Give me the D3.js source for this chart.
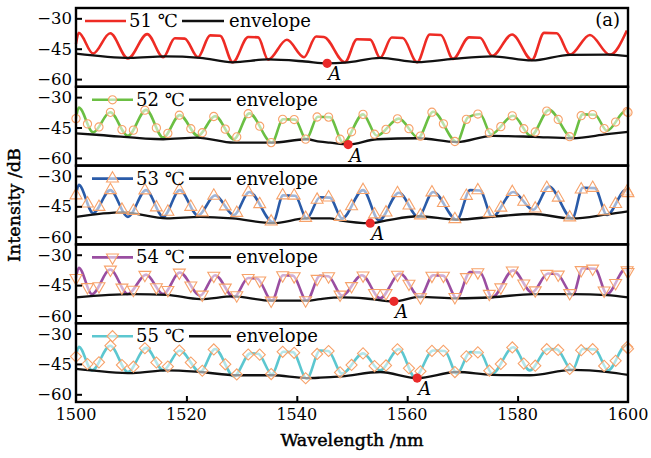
<!DOCTYPE html>
<html>
<head>
<meta charset="utf-8">
<script src="https://cdn.jsdelivr.net/npm/d3@7"></script>
<style>
  body { margin: 0; background: #fff; }
  text { font-family: "DejaVu Serif", serif; }
</style>
</head>
<body>
<svg id="chart" width="651" height="458"></svg>
<script>
const temps = ["51 ℃", "52 ℃", "53 ℃", "54 ℃", "55 ℃"];
const xTicks = [1500, 1520, 1540, 1560, 1580, 1600];
const yTicks = [-30, -45, -60];

const spec51 = [[1500.0,-42.6],[1500.5,-37.2],[1503.1,-47.4],[1506.2,-37.4],[1509.4,-49.8],[1512.9,-37.8],[1515.8,-49.2],[1517.9,-39.8],[1519.7,-40.0],[1522.1,-49.2],[1524.3,-38.4],[1526.1,-38.6],[1528.4,-51.7],[1531.2,-39.2],[1533.0,-39.4],[1534.8,-50.4],[1538.2,-40.6],[1541.3,-49.2],[1543.5,-39.0],[1544.9,-39.2],[1548.7,-51.7],[1550.9,-40.3],[1553.3,-40.5],[1555.1,-49.5],[1557.2,-39.5],[1559.2,-39.7],[1561.8,-51.7],[1564.1,-38.0],[1566.1,-38.2],[1568.3,-50.0],[1571.2,-39.4],[1573.2,-39.6],[1575.4,-48.5],[1579.0,-38.0],[1582.6,-50.5],[1584.8,-37.2],[1587.1,-37.4],[1589.5,-47.9],[1593.1,-38.2],[1596.7,-48.0],[1599.8,-36.0]];
const env51 = [[1500,-47.4],[1509.8,-49.5],[1516.1,-48.8],[1522.5,-49.5],[1528.4,-51.7],[1534.8,-50.3],[1541.5,-51.3],[1545.5,-52.2],[1548.7,-51.9],[1555.1,-49.5],[1561.8,-51.6],[1568.3,-50.0],[1575.4,-48.8],[1582.6,-50.8],[1589.5,-48.0],[1596.7,-47.9],[1600,-48.7]];

const spec52 = [[1500.0,-40.6],[1500.5,-35.1],[1503.1,-47.4],[1506.2,-37.5],[1509.4,-49.1],[1512.7,-36.3],[1515.8,-50.0],[1518.8,-38.9],[1522.1,-49.1],[1525.2,-39.4],[1528.6,-50.8],[1531.4,-38.0],[1535.5,-52.5],[1537.5,-40.9],[1539.7,-41.1],[1541.7,-50.8],[1543.8,-39.7],[1546.0,-39.9],[1548.4,-52.5],[1552.0,-38.5],[1554.5,-49.1],[1558.5,-40.6],[1562.0,-50.0],[1564.7,-37.2],[1569.0,-52.2],[1571.0,-40.0],[1573.2,-38.3],[1575.2,-48.3],[1579.2,-39.2],[1582.4,-49.1],[1585.7,-36.3],[1589.9,-50.0],[1591.8,-38.5],[1594.0,-38.7],[1596.2,-46.6],[1599.6,-36.8],[1600,-37.6]];
const env52 = [[1500,-47.9],[1504.3,-48.7],[1515.8,-50.8],[1521.9,-50.0],[1528.6,-52.5],[1535.5,-52.5],[1541.7,-50.8],[1544.2,-52.0],[1546.0,-52.5],[1549.3,-53.4],[1554.5,-50.8],[1562.0,-50.3],[1569.0,-52.2],[1575.5,-49.1],[1582.8,-49.6],[1589.9,-50.3],[1596.2,-48.3],[1600,-47.1]];

const spec53 = [[1500,-39.6],[1500.5,-34.4],[1503.1,-48.4],[1506.2,-37.0],[1509.4,-50.2],[1512.7,-37.0],[1515.8,-50.2],[1518.8,-37.0],[1522.1,-49.6],[1525.2,-39.6],[1528.6,-49.3],[1531.4,-37.9],[1535.7,-52.8],[1537.5,-39.6],[1539.7,-39.8],[1541.8,-51.0],[1544.2,-40.5],[1546.0,-40.7],[1548.2,-51.0],[1552.0,-37.0],[1554.9,-51.9],[1558.5,-38.3],[1562.0,-50.2],[1564.7,-37.9],[1569.0,-51.6],[1571.4,-37.0],[1573.2,-37.2],[1575.4,-50.2],[1579.2,-37.9],[1582.8,-46.7],[1585.7,-35.3],[1589.9,-51.0],[1591.8,-35.8],[1594.0,-36.0],[1596.2,-49.3],[1599.6,-37.0],[1600,-38.5]];
const env53 = [[1500,-50.2],[1508.5,-48.0],[1516.5,-51.0],[1522.5,-50.2],[1528.4,-51.0],[1535.7,-53.3],[1541.8,-51.0],[1546.0,-51.0],[1547.8,-51.9],[1553.3,-53.3],[1556.3,-51.9],[1562.0,-49.9],[1569.0,-51.6],[1576.3,-49.9],[1582.8,-48.8],[1589.9,-51.0],[1596.2,-49.0],[1600,-47.5]];

const spec54 = [[1500,-41.5],[1500.5,-36.4],[1502.9,-49.5],[1506.2,-37.3],[1509.4,-49.4],[1512.7,-39.8],[1515.8,-49.4],[1518.8,-38.8],[1522.5,-50.2],[1525.2,-40.1],[1528.6,-51.0],[1531.2,-41.5],[1532.8,-41.7],[1535.5,-52.7],[1537.5,-40.1],[1539.3,-40.3],[1541.8,-52.7],[1544.2,-40.4],[1545.7,-40.6],[1548.2,-50.2],[1551.8,-40.1],[1555.1,-51.5],[1558.7,-39.3],[1562.3,-51.0],[1564.7,-40.1],[1566.5,-40.3],[1569.0,-51.5],[1571.4,-38.5],[1573.2,-38.7],[1575.4,-51.0],[1579.2,-37.7],[1582.6,-48.6],[1585.5,-39.3],[1587.1,-39.5],[1590.0,-49.9],[1591.8,-36.7],[1594.0,-36.9],[1596.2,-49.4],[1599.6,-37.0],[1600,-38.5]];
const env54 = [[1500,-51.0],[1510.3,-49.4],[1516.5,-49.8],[1522.5,-51.9],[1528.4,-50.6],[1535.5,-52.7],[1541.8,-52.7],[1544.2,-51.9],[1548.2,-51.1],[1552.5,-51.6],[1557.6,-53.0],[1562.3,-50.8],[1569.0,-51.5],[1575.4,-51.0],[1582.8,-49.4],[1590.0,-49.4],[1596.2,-49.9],[1600,-51.0]];

const spec55 = [[1500,-41.4],[1500.5,-36.5],[1502.9,-48.2],[1506.2,-36.0],[1509.4,-49.0],[1512.7,-37.1],[1515.8,-48.2],[1518.8,-38.4],[1522.5,-49.0],[1525.2,-37.6],[1528.6,-51.1],[1531.6,-39.8],[1533.0,-40.0],[1535.5,-50.1],[1537.5,-39.0],[1539.3,-39.2],[1541.8,-52.3],[1544.2,-38.4],[1545.7,-38.6],[1548.2,-49.8],[1552.0,-39.8],[1555.1,-48.2],[1558.5,-37.6],[1561.4,-51.5],[1564.7,-38.4],[1566.8,-38.6],[1569.0,-49.8],[1571.4,-39.2],[1573.2,-39.4],[1575.4,-49.8],[1579.2,-36.8],[1582.2,-48.2],[1585.5,-37.6],[1587.1,-37.8],[1589.9,-48.2],[1591.8,-37.6],[1594.0,-37.8],[1596.4,-48.2],[1599.6,-36.0],[1600,-37.5]];
const env55 = [[1500,-47.4],[1510.3,-49.5],[1516.5,-48.2],[1522.5,-49.0],[1529.2,-50.6],[1535.5,-50.6],[1541.8,-52.0],[1544.2,-51.8],[1548.2,-51.1],[1555.1,-49.0],[1561.8,-52.0],[1569.0,-49.0],[1575.4,-50.4],[1582.2,-50.6],[1589.9,-47.9],[1596.4,-49.0],[1600,-50.4]];

// point A on each envelope
const pointA = [[1545.5,-52.2],[1549.3,-53.4],[1553.3,-53.3],[1557.6,-53.0],[1561.8,-52.0]];

const spectra = [spec51, spec52, spec53, spec54, spec55];
const envelopes = [env51, env52, env53, env54, env55];
const colors = ["#ee2b24", "#6bbf43", "#2a5ba8", "#9a4ea1", "#5cc7d0"];
const symbols = [null, "circle", "up", "down", "diamond"];
const markerStroke = "#f7a26a";
const markerStepNm = 2.08;

const svg = d3.select("#chart");
const margin = {top: 8, left: 76, right: 23, bottom: 56};
const W = 651 - margin.left - margin.right;
const panelH = (458 - margin.top - margin.bottom) / 5;

const sx = d3.scaleLinear().domain([1500, 1600]).range([margin.left, margin.left + W]);
const line = d3.line().curve(d3.curveMonotoneX);

function symbolPath(kind, size) {
  if (kind === "circle") return d3.symbol(d3.symbolCircle, size * 0.85)();
  if (kind === "diamond") return d3.symbol(d3.symbolSquare, size)();
  return d3.symbol(d3.symbolTriangle, size)();
}
function symbolRotate(kind) {
  if (kind === "down") return 180;
  if (kind === "diamond") return 45;
  return 0;
}

function drawMarker(g, kind, x, y) {
  g.append("path")
    .attr("d", symbolPath(kind, 62))
    .attr("transform", `translate(${x},${y}) rotate(${symbolRotate(kind)})`)
    .attr("fill", "rgba(255,255,255,0.55)")
    .attr("stroke", markerStroke)
    .attr("stroke-width", 1.1);
}

// y on a drawn path at a given x (path is monotone in x)
function yOnPath(node, x) {
  let lo = 0, hi = node.getTotalLength();
  for (let k = 0; k < 30; k++) {
    const mid = (lo + hi) / 2;
    if (node.getPointAtLength(mid).x < x) lo = mid; else hi = mid;
  }
  return node.getPointAtLength((lo + hi) / 2).y;
}

spectra.forEach((spec, i) => {
  const top = margin.top + i * panelH;
  const sy = d3.scaleLinear().domain([-63.8, -24.9]).range([top + panelH, top]);
  const g = svg.append("g");
  const toXY = d => [sx(d[0]), sy(d[1])];

  const specPath = g.append("path")
    .attr("d", line(spec.map(toXY)))
    .attr("fill", "none")
    .attr("stroke", colors[i])
    .attr("stroke-width", 2.6);

  g.append("path")
    .attr("d", line(envelopes[i].map(toXY)))
    .attr("fill", "none")
    .attr("stroke", "#111")
    .attr("stroke-width", 2.3);

  if (symbols[i]) {
    const node = specPath.node();
    const xs = d3.range(1500, 1600, markerStepNm).concat([1600]);
    xs.forEach(w => drawMarker(g, symbols[i], sx(w), yOnPath(node, sx(w))));
  }

  // point A
  const a = pointA[i];
  g.append("circle")
    .attr("cx", sx(a[0])).attr("cy", sy(a[1]))
    .attr("r", 4.6)
    .attr("fill", "#ea2a2a");
  g.append("text")
    .attr("x", sx(a[0]) + 1).attr("y", sy(a[1]) + 17)
    .attr("font-size", 18)
    .attr("font-style", "italic")
    .text("A");

  // legend
  const lx = i === 0 ? margin.left + 9 : margin.left + 16;
  const ly = top + 13;
  g.append("line")
    .attr("x1", lx).attr("x2", lx + 41).attr("y1", ly).attr("y2", ly)
    .attr("stroke", colors[i]).attr("stroke-width", 2.6);
  if (symbols[i]) drawMarker(g, symbols[i], lx + 20.5, ly);
  g.append("text")
    .attr("x", lx + 44).attr("y", ly + 6)
    .attr("font-size", 18)
    .text(temps[i]);
  const ex = lx + 97;
  g.append("line")
    .attr("x1", ex).attr("x2", ex + 42).attr("y1", ly).attr("y2", ly)
    .attr("stroke", "#111").attr("stroke-width", 2.6);
  g.append("text")
    .attr("x", ex + 47).attr("y", ly + 6)
    .attr("font-size", 18)
    .text("envelope");

  // y axis
  g.append("g")
    .attr("transform", `translate(${margin.left},0)`)
    .call(d3.axisRight(sy).tickValues(yTicks).tickSize(6).tickFormat(""))
    .call(s => s.select(".domain").remove())
    .call(s => s.selectAll("line").attr("stroke", "#000").attr("stroke-width", 2));
  g.selectAll(".ytl")
    .data(yTicks)
    .join("text")
    .attr("class", "ytl")
    .attr("x", margin.left - 4)
    .attr("y", d => sy(d) + 6)
    .attr("text-anchor", "end")
    .attr("font-size", 16.5)
    .text(d => d3.format("d")(d).replace("-", "\u2212"));

  g.append("rect")
    .attr("x", margin.left).attr("y", top)
    .attr("width", W).attr("height", panelH)
    .attr("fill", "none")
    .attr("stroke", "#000")
    .attr("stroke-width", 2.4);

  if (i === 0) {
    g.append("text")
      .attr("x", margin.left + W - 8).attr("y", top + 18)
      .attr("text-anchor", "end")
      .attr("font-size", 18)
      .text("(a)");
  }
});

// x axis on the bottom panel
const bottom = margin.top + 5 * panelH;
svg.append("g")
  .attr("transform", `translate(0,${bottom})`)
  .call(d3.axisTop(sx).tickValues(xTicks.slice(1, -1)).tickSize(6).tickFormat(""))
  .call(s => s.select(".domain").remove())
  .call(s => s.selectAll("line").attr("stroke", "#000").attr("stroke-width", 2));
svg.selectAll(".xtl")
  .data(xTicks)
  .join("text")
  .attr("class", "xtl")
  .attr("x", d => sx(d))
  .attr("y", bottom + 18)
  .attr("text-anchor", "middle")
  .attr("font-size", 16)
  .text(d => d);

svg.append("text")
  .attr("x", margin.left + W / 2)
  .attr("y", 446)
  .attr("text-anchor", "middle")
  .attr("font-size", 17.5)
  .attr("stroke", "#000")
  .attr("stroke-width", 0.45)
  .text("Wavelength /nm");

svg.append("text")
  .attr("transform", `translate(20,${margin.top + 2.5 * panelH}) rotate(-90)`)
  .attr("text-anchor", "middle")
  .attr("font-size", 17.5)
  .attr("stroke", "#000")
  .attr("stroke-width", 0.45)
  .text("Intensity /dB");
</script>
</body>
</html>
